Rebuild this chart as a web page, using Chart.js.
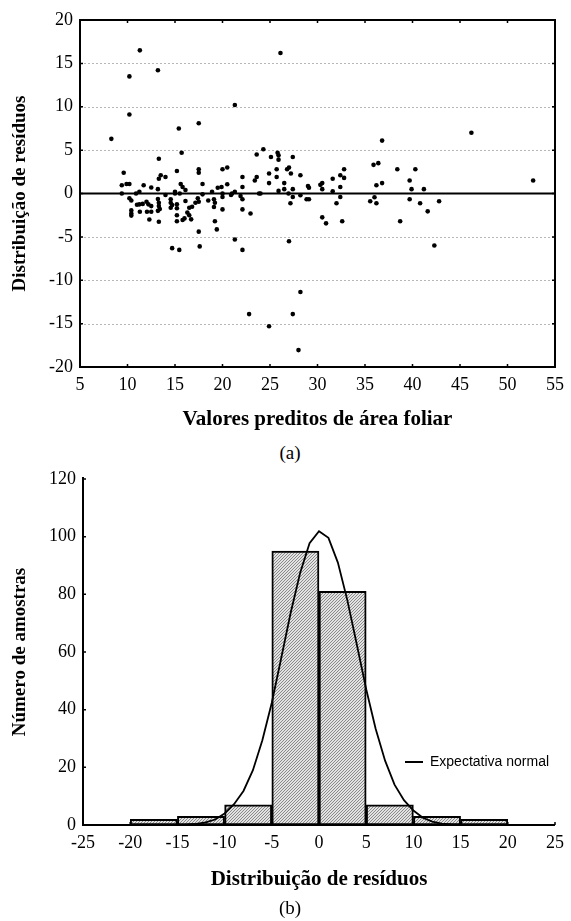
<!DOCTYPE html>
<html>
<head>
<meta charset="utf-8">
<script src="https://cdn.jsdelivr.net/npm/chart.js@4.4.1/dist/chart.umd.min.js"></script>
<style>
  body { margin: 0; width: 571px; height: 921px; background: #fff; position: relative; overflow: hidden; }
  canvas { position: absolute; left: 0; }
  .cap { position: absolute; left: 0; width: 580px; text-align: center; font: 19px 'Liberation Serif', 'Times New Roman', serif; line-height: 24px; color: #000; }
</style>
</head>
<body>
<canvas id="chartA" width="571" height="440" style="top:0"></canvas>
<div class="cap" style="top:441px">(a)</div>
<canvas id="chartB" width="571" height="440" style="top:460px"></canvas>
<div class="cap" style="top:896px">(b)</div>
<script>
// (a) predicted leaf area vs residual
const predicted = [
  8.3, 9.6, 10.2, 10.2, 11.3, 13.2, 13.3, 13.5, 14.0, 13.3, 15.2, 15.4, 15.7, 17.5, 17.5, 17.5,
  20.0, 20.5, 21.3, 26.1, 36.8, 24.3, 23.6, 25.1, 25.8, 25.9, 25.9, 27.4, 22.1, 23.6, 23.4, 24.9,
  25.7, 25.7, 26.8, 27.0, 27.2, 28.2, 31.6, 32.4, 32.8, 32.8, 35.9, 36.4, 38.4, 46.2, 40.3, 39.7,
  52.7, 9.4, 9.9, 10.2, 9.4, 11.7, 11.25, 10.9, 10.2, 10.4, 12.5, 13.2, 11.0, 11.25, 11.6, 10.4,
  10.4, 10.4, 11.3, 12.0, 12.2, 12.5, 12.05, 12.5, 12.3, 13.2, 13.3, 13.3, 13.2, 13.4, 13.3, 14.0,
  14.55, 14.55, 14.7, 14.55, 15.2, 15.2, 15.2, 15.2, 14.7, 15.45, 15.0, 15.0, 15.5, 15.6, 15.8, 16.1,
  16.1, 15.8, 16.0, 16.3, 16.5, 16.7, 16.5, 16.8, 17.15, 17.5, 17.4, 17.5, 17.6, 17.9, 17.9, 18.5,
  19.1, 19.2, 19.1, 19.2, 19.4, 18.9, 19.5, 19.9, 20.0, 20.0, 20.0, 20.5, 21.0, 21.3, 21.3, 20.9,
  22.1, 21.9, 22.1, 22.1, 22.95, 22.1, 22.8, 23.85, 24.0, 24.9, 25.9, 26.5, 26.5, 26.95, 27.4, 27.4,
  27.15, 27.0, 28.2, 28.2, 27.4, 24.9, 28.0, 29.0, 29.1, 28.85, 29.1, 30.3, 30.5, 30.5, 31.6, 30.5,
  30.9, 32.0, 32.4, 32.4, 32.6, 36.2, 36.8, 35.55, 36.0, 36.2, 39.9, 41.2, 39.7, 40.8, 42.8, 41.6,
  38.7, 42.3
];
const residual = [
  6.3, 2.4, 13.5, 9.1, 16.5, 14.2, 4.0, 2.1, 1.9, 1.7, 2.6, 7.5, 4.7, 8.1, 2.8, 2.4,
  2.8, 3.0, 10.2, 16.2, 6.1, 5.1, 4.5, 4.2, 4.7, 4.4, 3.9, 4.2, 1.9, 1.9, 1.5, 2.3,
  2.8, 1.9, 2.8, 3.0, 2.3, 2.1, 1.7, 2.1, 2.8, 1.8, 3.3, 3.5, 2.8, 7.0, 2.8, 1.5,
  1.5, 0.95, 1.1, 1.1, 0.0, 0.95, 0.2, 0.0, -0.55, -0.8, 0.7, 0.5, -1.3, -1.25, -1.2, -1.95,
  -2.3, -2.55, -2.1, -0.95, -1.25, -1.45, -2.1, -2.1, -3.0, -0.64, -1.06, -1.45, -2.0, -1.8, -3.26, -0.17,
  -0.67, -1.06, -1.33, -1.64, -1.25, -1.7, -2.5, -3.2, -6.3, -6.5, 0.2, 0.0, 0.0, 1.1, 0.75, 0.4,
  -0.87, -3.06, -2.87, -2.2, -2.5, -2.98, -1.64, -1.53, -1.06, -0.95, -0.55, -4.4, -6.1, 1.1, -0.1, -0.8,
  -0.67, -1.06, -1.56, -3.2, -4.14, 0.2, 0.67, 0.75, 0.0, -0.4, -1.83, 1.06, 0.0, 0.2, -5.3, -0.17,
  0.75, -0.3, -0.67, -1.83, -2.3, -6.5, -13.9, 0.0, 0.0, 1.2, 0.3, 1.2, 0.5, 0.0, 0.5, -0.4,
  -1.13, -5.5, -0.2, -11.35, -13.9, -15.3, -18.05, 0.87, 0.67, -0.67, -0.67, 1.0, 1.2, 0.5, 0.25, -2.75,
  -3.44, -1.13, 0.75, -0.4, -3.2, 0.95, 1.2, -0.9, -0.44, -1.13, 0.5, 0.5, -0.67, -1.13, -0.9, -2.06,
  -3.2, -6.0
];

// (b) residual histogram and normal expectation
const binCenters = [-17.5, -12.5, -7.5, -2.5, 2.5, 7.5, 12.5, 17.5];
const binCounts = [2, 3, 7, 95, 81, 7, 3, 2];
const normalX = [-16, -15, -14, -13, -12, -11, -10, -9, -8, -7, -6, -5, -4, -3, -2, -1, 0,
  1, 2, 3, 4, 5, 6, 7, 8, 9, 10, 11, 12, 13, 14, 15, 16];
const normalY = [0.02, 0.05, 0.15, 0.4, 0.9, 1.9, 4.0, 7.2, 11.8, 19, 29.4, 42.4, 57.9, 73.6, 87.4, 97.7, 101.9,
  99.6, 91.0, 78.0, 62.7, 47.1, 33.4, 22.3, 14.0, 8.6, 5.0, 2.5, 1.2, 0.5, 0.2, 0.07, 0.02];

const serif = "'Liberation Serif', 'Times New Roman', serif";

// axes, box, dotted grid and inward ticks drawn from the scales
const framePlugin = {
  id: 'frame',
  beforeDatasetsDraw(chart, args, opts) {
    const {ctx, chartArea: a, scales: {x, y}} = chart;
    ctx.save();
    if (opts.grid) {
      ctx.strokeStyle = '#b8b8b8';
      ctx.lineWidth = 1;
      ctx.setLineDash([2, 2]);
      y.ticks.forEach(t => {
        if (t.value === y.min || t.value === y.max || t.value === 0) return;
        const py = Math.round(y.getPixelForValue(t.value)) + 0.5;
        ctx.beginPath(); ctx.moveTo(a.left, py); ctx.lineTo(a.right, py); ctx.stroke();
      });
      ctx.setLineDash([]);
    }
    if (opts.zeroLine) {
      const py = y.getPixelForValue(0);
      ctx.strokeStyle = '#000';
      ctx.lineWidth = 2;
      ctx.beginPath(); ctx.moveTo(a.left, py); ctx.lineTo(a.right, py); ctx.stroke();
    }
    ctx.restore();
  },
  afterDatasetsDraw(chart, args, opts) {
    const {ctx, chartArea: a, scales: {x, y}} = chart;
    ctx.save();
    ctx.strokeStyle = '#000';
    ctx.lineWidth = 2;
    ctx.beginPath();
    if (opts.box) {
      ctx.rect(a.left, a.top, a.right - a.left, a.bottom - a.top);
    } else {
      ctx.moveTo(a.left, a.top - 2);
      ctx.lineTo(a.left, a.bottom);
      ctx.lineTo(a.right, a.bottom);
    }
    ctx.stroke();
    ctx.lineWidth = 1.5;
    const len = 3;
    ctx.beginPath();
    y.ticks.forEach(t => {
      const py = y.getPixelForValue(t.value);
      ctx.moveTo(a.left, py); ctx.lineTo(a.left + len, py);
      if (opts.box) { ctx.moveTo(a.right, py); ctx.lineTo(a.right - len, py); }
    });
    x.ticks.forEach(t => {
      const px = x.getPixelForValue(t.value);
      ctx.moveTo(px, a.bottom); ctx.lineTo(px, a.bottom - len);
      if (opts.box) { ctx.moveTo(px, a.top); ctx.lineTo(px, a.top + len); }
    });
    ctx.stroke();
    ctx.restore();
  },
  afterDraw(chart, args, opts) {
    if (!opts.legend) return;
    const {ctx, chartArea: a} = chart;
    const lx = a.left + opts.legend.dx, ly = a.top + opts.legend.dy;
    ctx.save();
    ctx.strokeStyle = '#000';
    ctx.lineWidth = 2;
    ctx.beginPath(); ctx.moveTo(lx, ly); ctx.lineTo(lx + 18, ly); ctx.stroke();
    ctx.fillStyle = '#000';
    ctx.font = "14px 'Liberation Sans', Arial, sans-serif";
    ctx.textBaseline = 'middle';
    ctx.fillText(opts.legend.text, lx + 25, ly);
    ctx.restore();
  }
};

function axis(min, max, step, title, titleSize, fixed, titlePad) {
  return {
    type: 'linear',
    min: min,
    max: max,
    offset: false,
    grid: { display: false, drawTicks: false },
    border: { display: false },
    ticks: { stepSize: step, color: '#000', font: { family: serif, size: 18 }, padding: 7, maxRotation: 0, autoSkip: false },
    title: { display: true, text: title, color: '#000', font: { family: serif, size: titleSize, weight: 'bold' }, padding: titlePad },
    afterFit: fixed
  };
}

function hatch() {
  const c = document.createElement('canvas');
  c.width = 3; c.height = 3;
  const p = c.getContext('2d');
  p.fillStyle = '#e2e2e2';
  p.fillRect(0, 0, 3, 3);
  p.fillStyle = '#8a8a8a';
  p.fillRect(2, 0, 1, 1);
  p.fillRect(1, 1, 1, 1);
  p.fillRect(0, 2, 1, 1);
  return p.createPattern(c, 'repeat');
}

const residChart = new Chart(document.getElementById('chartA'), {
  type: 'scatter',
  data: {
    datasets: [{
      data: predicted.map((v, i) => ({ x: v, y: residual[i] })),
      backgroundColor: '#000',
      borderWidth: 0,
      pointRadius: 2.3
    }]
  },
  options: {
    responsive: false,
    devicePixelRatio: 1,
    animation: false,
    events: [],
    layout: { padding: { top: 20, right: 13, bottom: 0, left: 0 } },
    scales: {
      x: axis(5, 55, 5, 'Valores preditos de área foliar', 21, s => { s.height = 73; }, { top: 0, bottom: 8 }),
      y: axis(-20, 20, 5, 'Distribuição de resíduos', 19, s => { s.width = 80; }, { top: 9, bottom: 0 })
    },
    plugins: {
      legend: { display: false },
      tooltip: { enabled: false },
      frame: { box: true, grid: true, zeroLine: true }
    }
  },
  plugins: [framePlugin]
});

const histChart = new Chart(document.getElementById('chartB'), {
  type: 'bar',
  data: {
    datasets: [{
      type: 'line',
      label: 'Expectativa normal',
      data: normalX.map((v, i) => ({ x: v, y: normalY[i] })),
      borderColor: '#000',
      borderWidth: 1.8,
      pointRadius: 0,
      tension: 0,
      order: 0
    }, {
      type: 'bar',
      data: binCenters.map((v, i) => ({ x: v, y: binCounts[i] })),
      backgroundColor: hatch(),
      borderColor: '#000',
      borderWidth: 2,
      borderSkipped: false,
      barPercentage: 1,
      categoryPercentage: 1,
      order: 1
    }]
  },
  options: {
    responsive: false,
    devicePixelRatio: 1,
    animation: false,
    events: [],
    layout: { padding: { top: 19, right: 11, bottom: 0, left: 0 } },
    scales: {
      x: axis(-25, 25, 5, 'Distribuição de resíduos', 21, s => { s.height = 75; }, { top: 0, bottom: 8 }),
      y: axis(0, 120, 20, 'Número de amostras', 19, s => { s.width = 83; }, { top: 9, bottom: 0 })
    },
    plugins: {
      legend: { display: false },
      tooltip: { enabled: false },
      frame: { box: false, grid: false, zeroLine: false, legend: { dx: 322, dy: 283, text: 'Expectativa normal' } }
    }
  },
  plugins: [framePlugin]
});
</script>
</body>
</html>
